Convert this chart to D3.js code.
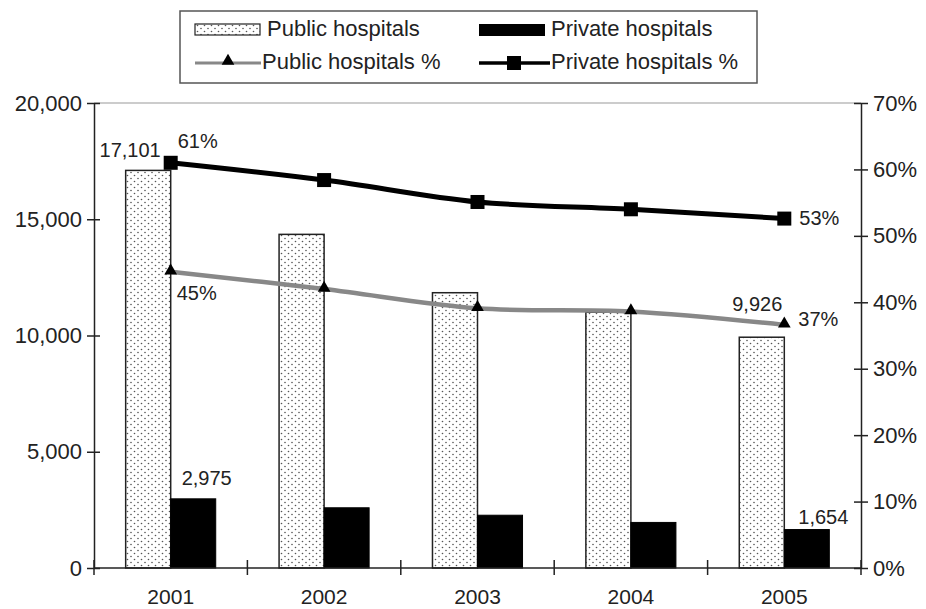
<!DOCTYPE html>
<html><head><meta charset="utf-8">
<script src="https://cdn.jsdelivr.net/npm/d3@7/dist/d3.min.js"></script>
<style>body{margin:0;background:#fff}svg{display:block;font-family:"Liberation Sans",Arial,sans-serif}</style>
</head><body><svg id="c" width="926" height="609"></svg>
<script>
const years = ["2001","2002","2003","2004","2005"];
const publicBeds = [17101, 14350, 11840, 11000, 9926];
const privateBeds = [2975, 2590, 2270, 1960, 1654];
const publicPct = [44.6, 42.0, 39.1, 38.6, 36.6];
const privatePct = [61.0, 58.4, 55.1, 54.0, 52.6];
const leftTicks = [0, 5000, 10000, 15000, 20000];
const rightTicks = [0, 10, 20, 30, 40, 50, 60, 70];
const seriesNames = ["Public hospitals", "Private hospitals", "Public hospitals %", "Private hospitals %"];

const svg = d3.select("#c");
const L = 94, R = 861, T = 103, B = 568;
const txt = "#222";
const FF = '"Liberation Sans",Arial,sans-serif';

const defs = svg.append("defs");
const pat = defs.append("pattern").attr("id","dots").attr("patternUnits","userSpaceOnUse")
  .attr("width",7).attr("height",6);
pat.append("rect").attr("width",7).attr("height",6).attr("fill","#fff");
pat.append("circle").attr("cx",1.5).attr("cy",1.5).attr("r",0.8).attr("fill","#555");
pat.append("circle").attr("cx",5).attr("cy",4.5).attr("r",0.8).attr("fill","#555");

const x0 = d3.scaleBand().domain(years).range([L, R]).paddingInner(0.413).paddingOuter(0.2065);
const x1 = d3.scaleBand().domain(["pub","priv"]).range([0, x0.bandwidth()]);
const yL = d3.scaleLinear().domain([0, 20000]).range([B, T]);
const yR = d3.scaleLinear().domain([0, 70]).range([B, T]);
const cx = y => x0(y) + x0.bandwidth()/2;

svg.append("line").attr("x1",L).attr("x2",R).attr("y1",T).attr("y2",T).attr("stroke","#999").attr("stroke-width",1.2);

const g = svg.append("g");
years.forEach((yr,i)=>{
  g.append("rect").attr("x", x0(yr)+x1("pub")).attr("y", yL(publicBeds[i]))
   .attr("width", x1.bandwidth()).attr("height", B - yL(publicBeds[i]))
   .attr("fill","url(#dots)").attr("stroke","#222").attr("stroke-width",1.5);
  g.append("rect").attr("x", x0(yr)+x1("priv")).attr("y", yL(privateBeds[i]))
   .attr("width", x1.bandwidth()).attr("height", B - yL(privateBeds[i]))
   .attr("fill","#000").attr("stroke","#000").attr("stroke-width",1);
});

const fmt = d3.format(",");
const axL = d3.axisLeft(yL).tickValues(leftTicks).tickFormat(fmt).tickSizeInner(7).tickSizeOuter(0).tickPadding(5);
const gl = svg.append("g").attr("transform",`translate(${L},0)`).call(axL);
gl.selectAll(".tick line").attr("x2",6).attr("x1",-7);
const axR = d3.axisRight(yR).tickValues(rightTicks).tickFormat(d=>d+"%").tickSizeInner(7).tickSizeOuter(0).tickPadding(5);
const gr = svg.append("g").attr("transform",`translate(${R},0)`).call(axR);
gr.selectAll(".tick line").attr("x1",-7).attr("x2",7);
const axB = d3.axisBottom(x0).tickSize(0).tickPadding(21);
const gb = svg.append("g").attr("transform",`translate(0,${B})`).call(axB);
[gl,gr,gb].forEach(a=>{
  a.select(".domain").attr("stroke","#222").attr("stroke-width",1.5);
  a.selectAll(".tick line").attr("stroke","#222").attr("stroke-width",1.5);
  a.selectAll("text").attr("font-size",22).attr("fill",txt).attr("font-family",FF);
});
gb.selectAll("text").attr("font-size",21);
gb.select(".domain").attr("d",`M${L},0H${R}`);
const bounds = years.map(y=>x0(y)-x0.step()*x0.paddingInner()/2).concat([R]);
gb.selectAll(".bt").data(bounds).enter().append("line")
  .attr("x1",d=>d).attr("x2",d=>d).attr("y1",-8).attr("y2",7).attr("stroke","#222").attr("stroke-width",1.5);

const lineGen = d3.line().x((d,i)=>cx(years[i])).y(d=>yR(d)).curve(d3.curveCatmullRom.alpha(0.5));
svg.append("path").attr("d",lineGen(publicPct)).attr("fill","none").attr("stroke","#888").attr("stroke-width",4.5);
svg.append("path").attr("d",lineGen(privatePct)).attr("fill","none").attr("stroke","#000").attr("stroke-width",5);
const tri = d3.symbol().type(d3.symbolTriangle).size(70);
publicPct.forEach((v,i)=>{
  svg.append("path").attr("d",tri()).attr("transform",`translate(${cx(years[i])},${yR(v)-1})`).attr("fill","#000");
});
privatePct.forEach((v,i)=>{
  svg.append("rect").attr("x",cx(years[i])-7).attr("y",yR(v)-7).attr("width",14).attr("height",14).attr("fill","#000");
});

const lab = (x,y,t,anchor)=>svg.append("text").attr("x",x).attr("y",y).attr("text-anchor",anchor||"start")
  .attr("font-size",20).attr("fill",txt).text(t);
const c0 = cx(years[0]), c4 = cx(years[4]);
lab(c0-10, yL(publicBeds[0])-13, fmt(publicBeds[0]), "end");
lab(c0+7, yR(privatePct[0])-15, Math.round(privatePct[0])+"%");
lab(c0+6, yR(publicPct[0])+28, Math.round(publicPct[0])+"%");
lab(c0+11, yL(privateBeds[0])-14, fmt(privateBeds[0]));
lab(c4-2, yL(publicBeds[4])-26, fmt(publicBeds[4]), "end");
lab(c4+14, yR(publicPct[4])+1, Math.round(publicPct[4])+"%");
lab(c4+15, yR(privatePct[4])+6, Math.round(privatePct[4])+"%");
lab(c4+14, yL(privateBeds[4])-6, fmt(privateBeds[4]));

const lg = svg.append("g");
lg.append("rect").attr("x",180).attr("y",11).attr("width",577).attr("height",72).attr("fill","#fff").attr("stroke","#555").attr("stroke-width",1.5);
lg.append("rect").attr("x",195).attr("y",24).attr("width",65).attr("height",11).attr("fill","url(#dots)").attr("stroke","#222").attr("stroke-width",1.2);
lg.append("rect").attr("x",479).attr("y",24).attr("width",66).attr("height",12).attr("fill","#000");
lg.append("line").attr("x1",195).attr("x2",261).attr("y1",63).attr("y2",63).attr("stroke","#888").attr("stroke-width",3);
lg.append("path").attr("d",tri()).attr("transform","translate(228,61)").attr("fill","#000");
lg.append("line").attr("x1",479).attr("x2",550).attr("y1",63).attr("y2",63).attr("stroke","#000").attr("stroke-width",3.5);
lg.append("rect").attr("x",507).attr("y",56).attr("width",14).attr("height",14).attr("fill","#000");
const lt = (x,y,t)=>lg.append("text").attr("x",x).attr("y",y).attr("font-size",22).attr("fill",txt).text(t);
lt(267,36,seriesNames[0]); lt(551,36,seriesNames[1]);
lt(262,69,seriesNames[2]); lt(551,69,seriesNames[3]);
</script></body></html>
